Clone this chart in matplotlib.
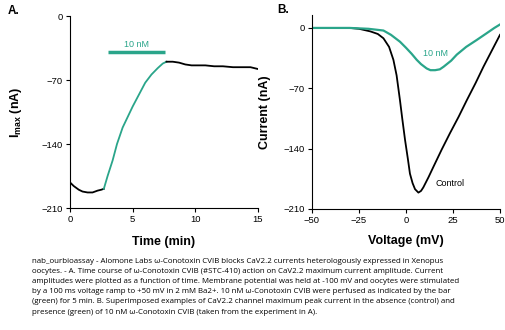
import matplotlib.pyplot as plt

# panel A: time course of Imax
t_ctrl1 = [0, 0.3, 0.7, 1.0, 1.4, 1.8, 2.2, 2.5, 2.7]
i_ctrl1 = [-182, -186, -190, -192, -193, -193, -191, -190, -189]
t_tox = [2.7, 3.0, 3.4, 3.75, 4.2, 5.0, 5.5, 6.0, 6.5, 7.0, 7.4, 7.7]
imax_tox = [-189, -175, -158, -140, -122, -99, -86, -73, -64, -57, -52, -50]
t_ctrl2 = [7.7, 8.2, 8.7, 9.2, 9.7, 10.2, 10.8, 11.5, 12.2, 13.0, 13.7, 14.4, 15.0]
i_ctrl2 = [-50, -50, -51, -53, -54, -54, -54, -55, -55, -56, -56, -56, -58]

# panel B: IV ramps
v_ctrl = [-50, -40, -30, -25, -19, -15, -12, -9, -6.7, -5, -3.2, -2, -0.5, 1, 2.1,
          3.5, 4.8, 6.6, 8, 9.2, 12, 14.6, 19, 23.4, 28, 32.3, 37, 41.2, 45, 50]
i_ctrl = [0, 0, 0, -1, -4, -7, -12, -22, -37, -55, -84, -105, -130, -152, -169,
          -180, -187, -191, -189, -185, -173, -161, -141, -122, -103, -84, -64, -45, -29, -8]
v_tox = [-50, -40, -30, -20, -12, -8, -3.2, 0, 3, 5.7, 8, 11, 13, 15.5, 18, 20,
         24, 27, 32, 37.6, 43, 47, 50]
i_tox = [0, 0, 0, -1, -3, -8, -16, -23, -30, -37, -42, -47, -49, -49, -48, -45,
         -38, -31, -22, -14, -6, 0, 4]

green = '#2aa58a'
plt.rcParams['font.family'] = ['Liberation Sans', 'DejaVu Sans']

fig = plt.figure(figsize=(5.05, 3.30), dpi=100)
axA = fig.add_axes([70 / 505, 1 - 208 / 330, 188 / 505, 192 / 330])
axB = fig.add_axes([312 / 505, 1 - 209 / 330, 188 / 505, 194 / 330])

axA.plot(t_ctrl1, i_ctrl1, color='black', lw=1.3)
axA.plot(t_tox, imax_tox, color=green, lw=1.3)
axA.plot(t_ctrl2, i_ctrl2, color='black', lw=1.3)
axA.plot([3.0, 7.6], [-39.5, -39.5], color=green, lw=2.5, solid_capstyle='butt')
axA.text(5.3, -36, '10 nM', color=green, fontsize=6.5, ha='center', va='bottom')
axA.set_xlim(0, 15)
axA.set_ylim(-210, 0)
axA.set_xticks([0, 5, 10, 15])
axA.set_yticks([0, -70, -140, -210])
axA.set_xlabel('Time (min)', fontsize=9, fontweight='bold', labelpad=9)
axA.set_ylabel(r'I$_{\mathregular{max}}$ (nA)', fontsize=9, fontweight='bold', labelpad=13)

axB.plot(v_ctrl, i_ctrl, color='black', lw=1.3)
axB.plot(v_tox, i_tox, color=green, lw=1.6)
axB.text(15.5, -30, '10 nM', color=green, fontsize=6.5, ha='center', va='center')
axB.text(23.5, -181, 'Control', color='black', fontsize=6.5, ha='center', va='center')
axB.set_xlim(-50, 50)
axB.set_ylim(-210, 15)
axB.set_xticks([-50, -25, 0, 25, 50])
axB.set_yticks([0, -70, -140, -210])
axB.set_xlabel('Voltage (mV)', fontsize=9, fontweight='bold', labelpad=7)
axB.set_ylabel('Current (nA)', fontsize=9, fontweight='bold', labelpad=9)

for ax in (axA, axB):
    for s in ('top', 'right'):
        ax.spines[s].set_visible(False)
    ax.spines['left'].set_linewidth(0.8)
    ax.spines['bottom'].set_linewidth(0.8)
    ax.tick_params(direction='out', length=3, width=0.8, labelsize=6.8, pad=2)

fig.text(8 / 505, 1 - 11 / 330, 'A.', fontsize=8.5, fontweight='bold', va='center')
fig.text(277 / 505, 1 - 10 / 330, 'B.', fontsize=8.5, fontweight='bold', va='center')

caption = ("nab_ourbioassay - Alomone Labs \u03c9-Conotoxin CVIB blocks CaV2.2 currents heterologously expressed in Xenopus\n"
           "oocytes. - A. Time course of \u03c9-Conotoxin CVIB (#STC-410) action on CaV2.2 maximum current amplitude. Current\n"
           "amplitudes were plotted as a function of time. Membrane potential was held at -100 mV and oocytes were stimulated\n"
           "by a 100 ms voltage ramp to +50 mV in 2 mM Ba2+. 10 nM \u03c9-Conotoxin CVIB were perfused as indicated by the bar\n"
           "(green) for 5 min. B. Superimposed examples of CaV2.2 channel maximum peak current in the absence (control) and\n"
           "presence (green) of 10 nM \u03c9-Conotoxin CVIB (taken from the experiment in A).")
fig.text(32 / 505, 1 - 258 / 330, caption, fontsize=5.65, va='top', ha='left',
         family=['Open Sans', 'DejaVu Sans'], linespacing=1.62)

fig.savefig('out.png', dpi=100)
